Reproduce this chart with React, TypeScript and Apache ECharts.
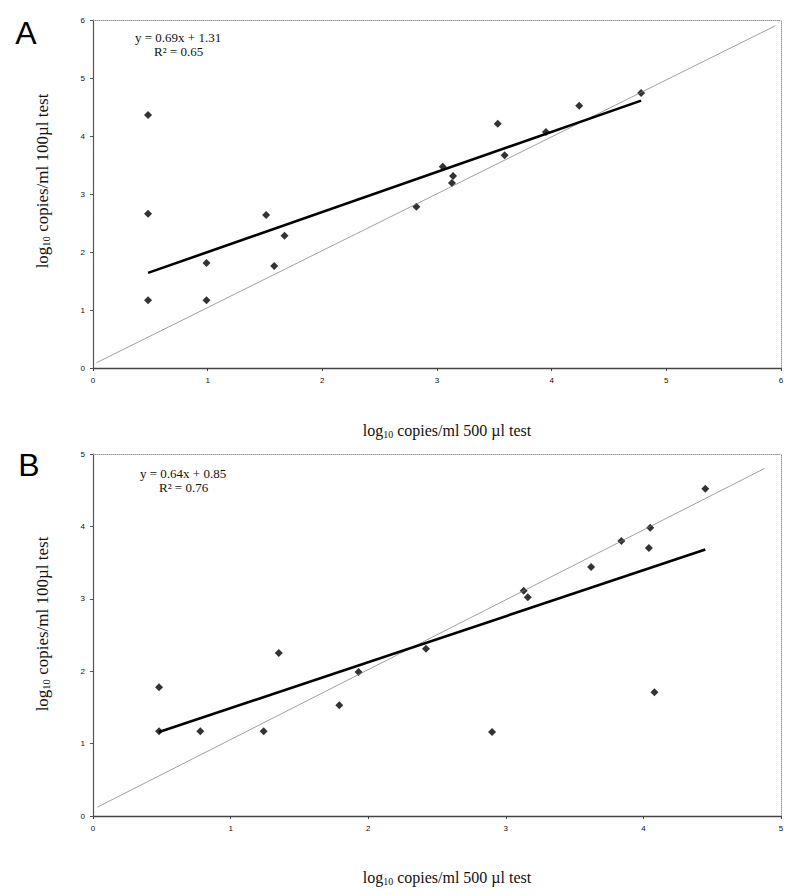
import React, { useEffect, useRef } from "react";
import * as echarts from "echarts";

// Panel A
const xA = [0.48, 0.48, 0.48, 0.99, 0.99, 1.51, 1.58, 1.67, 2.82, 3.05, 3.14, 3.13, 3.53, 3.59, 3.95, 4.24, 4.78];
const yA = [4.36, 2.66, 1.17, 1.81, 1.17, 2.64, 1.76, 2.28, 2.78, 3.47, 3.31, 3.19, 4.21, 3.67, 4.07, 4.52, 4.74];
const trendA = [[0.48, 1.64], [4.78, 4.61]];
const identityA = [[0.03, 0.09], [5.95, 5.9]];
const eqA = ["y = 0.69x + 1.31", "R² = 0.65"];

// Panel B
const xB = [0.48, 0.48, 0.78, 1.24, 1.35, 1.79, 1.93, 2.42, 2.9, 3.13, 3.16, 3.62, 3.84, 4.05, 4.04, 4.08, 4.45];
const yB = [1.78, 1.17, 1.17, 1.17, 2.25, 1.53, 1.99, 2.31, 1.16, 3.11, 3.02, 3.44, 3.8, 3.98, 3.7, 1.71, 4.52];
const trendB = [[0.48, 1.16], [4.45, 3.68]];
const identityB = [[0.03, 0.12], [4.88, 4.8]];
const eqB = ["y = 0.64x + 0.85", "R² = 0.76"];

const maxA = 6;
const maxB = 5;

const SERIF = "Liberation Serif, Times New Roman, serif";
const SANS = "Liberation Sans, Arial, sans-serif";

function bottomX(gridIndex: number, max: number) {
  return {
    type: "value",
    gridIndex,
    min: 0,
    max,
    interval: 1,
    position: "bottom",
    axisLine: { show: true, onZero: false, lineStyle: { color: "#444", width: 1.3 } },
    axisTick: { show: true, length: 3, lineStyle: { color: "#444" } },
    axisLabel: { fontSize: 8, color: "#111", margin: 8, fontFamily: SANS },
    splitLine: { show: false },
  };
}
function topX(gridIndex: number, max: number) {
  return {
    type: "value",
    gridIndex,
    min: 0,
    max,
    position: "top",
    axisLine: { show: true, onZero: false, lineStyle: { color: "#999", width: 1, type: "dotted" } },
    axisTick: { show: false },
    axisLabel: { show: false },
    splitLine: { show: false },
  };
}
function leftY(gridIndex: number, max: number) {
  return {
    type: "value",
    gridIndex,
    min: 0,
    max,
    interval: 1,
    position: "left",
    axisLine: { show: true, onZero: false, lineStyle: { color: "#555", width: 1.2 } },
    axisTick: { show: true, length: 3, lineStyle: { color: "#555" } },
    axisLabel: { fontSize: 8, color: "#111", margin: 8, fontFamily: SANS },
    splitLine: { show: false },
  };
}
function rightY(gridIndex: number, max: number) {
  return {
    type: "value",
    gridIndex,
    min: 0,
    max,
    position: "right",
    axisLine: { show: true, onZero: false, lineStyle: { color: "#999", width: 1, type: "dotted" } },
    axisTick: { show: false },
    axisLabel: { show: false },
    splitLine: { show: false },
  };
}

function axisTitle(text: string, x: number, y: number, rotate: boolean, size: number) {
  return {
    type: "text",
    x,
    y,
    rotation: rotate ? Math.PI / 2 : 0,
    style: {
      text: `{a|log}{s|10}{a| ${text}}`,
      align: "center",
      verticalAlign: "middle",
      fill: "#111",
      rich: {
        a: { fontSize: size, fontFamily: SERIF, lineHeight: size + 2, fill: "#111" },
        s: { fontSize: size * 0.62, fontFamily: SERIF, lineHeight: size + 2, verticalAlign: "bottom", fill: "#111" },
      },
    },
  };
}

function eqText(lines: string[], x: number, y: number) {
  return [
    { type: "text", x, y, style: { text: lines[0], fontSize: 13, fontFamily: SERIF, fill: "#111", align: "left", verticalAlign: "middle" } },
    { type: "text", x: x + 19, y: y + 14, style: { text: lines[1], fontSize: 13, fontFamily: SERIF, fill: "#111", align: "left", verticalAlign: "middle" } },
  ];
}

export default function App() {
  const ref = useRef<HTMLDivElement>(null);
  useEffect(() => {
    document.body.style.margin = "0";
    const chart = echarts.init(ref.current!, null, { renderer: "svg" });
    const toPts = (xs: number[], ys: number[]) => xs.map((x, i) => [x, ys[i]]);
    const option: any = {
      animation: false,
      backgroundColor: "#fff",
      grid: [
        { left: 93, top: 20, width: 688, height: 348 },
        { left: 93, top: 454, width: 688, height: 362 },
      ],
      xAxis: [bottomX(0, maxA), bottomX(1, maxB), topX(0, maxA), topX(1, maxB)],
      yAxis: [leftY(0, maxA), leftY(1, maxB), rightY(0, maxA), rightY(1, maxB)],
      series: [
        {
          type: "line", xAxisIndex: 0, yAxisIndex: 0, data: identityA, showSymbol: false, symbol: "none",
          lineStyle: { color: "#777", width: 0.7 }, silent: true,
        },
        {
          type: "line", xAxisIndex: 0, yAxisIndex: 0, data: trendA, showSymbol: false, symbol: "none",
          lineStyle: { color: "#000", width: 2.6 }, silent: true,
        },
        {
          type: "scatter", xAxisIndex: 0, yAxisIndex: 0, data: toPts(xA, yA), symbol: "diamond", symbolSize: [8, 8],
          itemStyle: { color: "#000" },
        },
        {
          type: "line", xAxisIndex: 1, yAxisIndex: 1, data: identityB, showSymbol: false, symbol: "none",
          lineStyle: { color: "#777", width: 0.7 }, silent: true,
        },
        {
          type: "line", xAxisIndex: 1, yAxisIndex: 1, data: trendB, showSymbol: false, symbol: "none",
          lineStyle: { color: "#000", width: 2.6 }, silent: true,
        },
        {
          type: "scatter", xAxisIndex: 1, yAxisIndex: 1, data: toPts(xB, yB), symbol: "diamond", symbolSize: [8, 8],
          itemStyle: { color: "#000" },
        },
      ],
      graphic: [
        { type: "text", x: 26, y: 33, style: { text: "A", fontSize: 32, fontFamily: SANS, fill: "#000", align: "center", verticalAlign: "middle" } },
        { type: "text", x: 29, y: 465, style: { text: "B", fontSize: 32, fontFamily: SANS, fill: "#000", align: "center", verticalAlign: "middle" } },
        ...eqText(eqA, 135, 37),
        ...eqText(eqB, 140, 473),
        axisTitle("copies/ml 100µl test", 42, 181, true, 17),
        axisTitle("copies/ml 500 µl test", 447, 430, false, 16),
        axisTitle("copies/ml 100µl test", 42, 624, true, 17),
        axisTitle("copies/ml 500 µl test", 447, 877, false, 16),
      ],
    };
    chart.setOption(option);
    return () => chart.dispose();
  }, []);
  return <div ref={ref} style={{ width: 800, height: 895, background: "#fff" }} />;
}
